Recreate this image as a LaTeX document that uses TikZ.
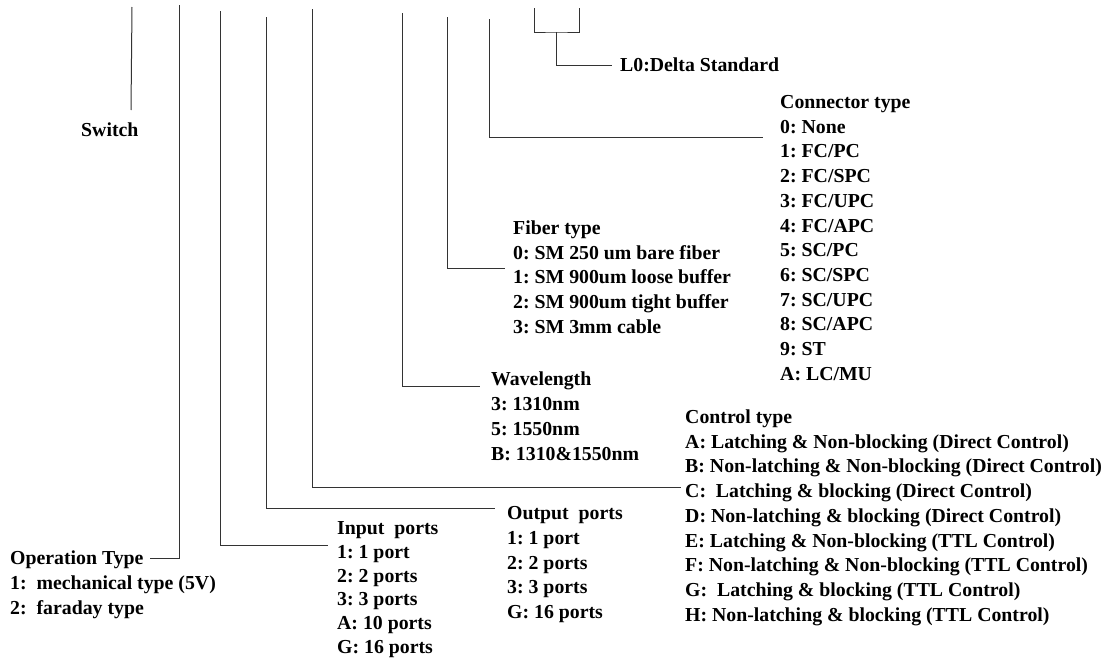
\documentclass[tikz,border=0pt]{standalone}
\usepackage{fontspec}
\setmainfont{Liberation Serif}
\begin{document}
\frenchspacing
\begin{tikzpicture}[x=1pt,y=-1pt,
  lbl/.style={anchor=base west, inner sep=0pt, font=\frenchspacing\bfseries\fontsize{19.8}{24}\selectfont, text=black},
  wire/.style={draw=black!80, line width=1pt}]
\useasboundingbox (0,0) rectangle (1109,664);

% ---------- labels ----------
\node[lbl] (sw) at (81,136.5) {Switch};
\node[lbl] (l0) at (620,71.5) {L0:Delta Standard};

\foreach \t [count=\i from 0] in {Connector type,0: None,1: FC/PC,2: FC/SPC,3: FC/UPC,4: FC/APC,5: SC/PC,6: SC/SPC,7: SC/UPC,8: SC/APC,9: ST,A: LC/MU}
  \node[lbl] (ct\i) at (780,{108.5+\i*24.7}) {\t};

\foreach \t [count=\i from 0] in {Fiber type,0: SM 250 um bare fiber,1: SM 900um loose buffer,2: SM 900um tight buffer,3: SM 3mm cable}
  \node[lbl] (ft\i) at (513,{234.5+\i*24.7}) {\t};

\foreach \t [count=\i from 0] in {Wavelength,3: 1310nm,5: 1550nm,B: 1310\&1550nm}
  \node[lbl] (wl\i) at (491,{385.5+\i*25}) {\t};

\foreach \t [count=\i from 0] in {Control type,
  A: Latching \& Non-blocking (Direct Control),
  B: Non-latching \& Non-blocking (Direct Control),
  C:~ Latching \& blocking (Direct Control),
  D: Non-latching \& blocking (Direct Control),
  E: Latching \& Non-blocking (TTL Control),
  F: Non-latching \& Non-blocking (TTL Control),
  G:~ Latching \& blocking (TTL Control),
  H: Non-latching \& blocking (TTL Control)}
  \node[lbl] (cn\i) at (685,{423.5+\i*24.7}) {\t};

\foreach \t [count=\i from 0] in {Output~ ports,1: 1 port,2: 2 ports,3: 3 ports,G: 16 ports}
  \node[lbl] (op\i) at (507,{519.5+\i*24.8}) {\t};

\foreach \t [count=\i from 0] in {Input~ ports,1: 1 port,2: 2 ports,3: 3 ports,A: 10 ports,G: 16 ports}
  \node[lbl] (ip\i) at (337,{534.5+\i*23.8}) {\t};

\foreach \t [count=\i from 0] in {Operation Type,1:~ mechanical type (5V),2:~ faraday type}
  \node[lbl] (ot\i) at (10,{564.5+\i*25}) {\t};

% ---------- connector coordinates ----------
\coordinate (s1) at (132,7);   \coordinate (e1) at (131,110);
\coordinate (s2) at (179.5,5); \coordinate (e2) at (150,558);
\coordinate (s3) at (220,11);  \coordinate (e3) at (328,545);
\coordinate (s4) at (266,17);  \coordinate (e4) at (495,508);
\coordinate (s5) at (312,9);   \coordinate (e5) at (681,487);
\coordinate (s6) at (402,13);  \coordinate (e6) at (480,386);
\coordinate (s7) at (447,17);  \coordinate (e7) at (505,268);
\coordinate (s8) at (489,19);  \coordinate (e8) at (763,137);
\coordinate (ba) at (534,8);   \coordinate (bb) at (579,8);
\coordinate (bm) at (556,32);  \coordinate (be) at (612,65);

% ---------- connectors ----------
\draw[wire] (s1) -- (e1);
\draw[wire] (s2) |- (e2);
\draw[wire] (s3) |- (e3);
\draw[wire] (s4) |- (e4);
\draw[wire] (s5) |- (e5);
\draw[wire] (s6) |- (e6);
\draw[wire] (s7) |- (e7);
\draw[wire] (s8) |- (e8);
\draw[wire] (ba) |- (bm) -| (bb);
\draw[wire] (bm) |- (be);
\end{tikzpicture}
\end{document}
